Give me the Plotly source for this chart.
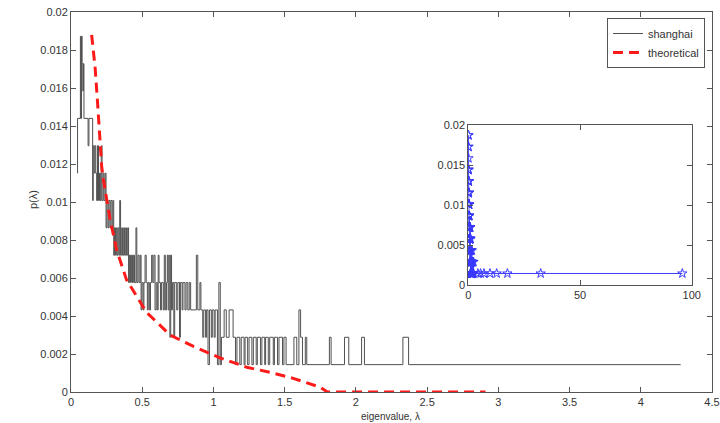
import plotly.graph_objects as go

# ---------------- data ----------------
# empirical eigenvalue density ("shanghai"), staircase: step starts at x, value p
shanghai_x = [0.044, 0.046, 0.066, 0.070, 0.074, 0.078, 0.083, 0.087, 0.091, 0.120,
              0.126, 0.152, 0.156, 0.162, 0.168, 0.174, 0.180, 0.186, 0.193, 0.200,
              0.206, 0.212, 0.218, 0.226, 0.232, 0.240, 0.246, 0.252, 0.260, 0.266,
              0.274, 0.280, 0.288, 0.294, 0.300, 0.306, 0.312, 0.318, 0.324, 0.330,
              0.336, 0.342, 0.348, 0.356, 0.362, 0.370, 0.376, 0.384, 0.390, 0.398,
              0.404, 0.410, 0.418, 0.424, 0.432, 0.438, 0.446, 0.456, 0.462, 0.470,
              0.478, 0.486, 0.492, 0.498, 0.506, 0.512, 0.520, 0.528, 0.536, 0.542,
              0.550, 0.558, 0.566, 0.574, 0.582, 0.590, 0.598, 0.606, 0.612, 0.618,
              0.628, 0.636, 0.648, 0.655, 0.662, 0.670, 0.676, 0.682, 0.688, 0.694,
              0.700, 0.706, 0.712, 0.722, 0.728, 0.742, 0.750, 0.762, 0.768, 0.780,
              0.786, 0.800, 0.808, 0.820, 0.830, 0.840, 0.880, 0.890, 0.905, 0.912,
              0.925, 0.932, 0.945, 0.952, 0.962, 0.972, 0.985, 0.992, 1.005, 1.012,
              1.028, 1.038, 1.048, 1.056, 1.075, 1.090, 1.110, 1.138, 1.155, 1.165,
              1.185, 1.195, 1.215, 1.222, 1.240, 1.250, 1.270, 1.280, 1.300, 1.308,
              1.330, 1.340, 1.360, 1.366, 1.385, 1.395, 1.420, 1.428, 1.450, 1.460,
              1.485, 1.495, 1.510, 1.565, 1.585, 1.600, 1.612, 1.625, 1.645, 1.655,
              1.814, 1.826, 1.920, 1.950, 2.040, 2.060, 2.330, 2.370, 4.280]
shanghai_p = [0.01152, 0.0144, 0.01872, 0.0144, 0.01872, 0.01728, 0.01584, 0.01728, 0.0144, 0.01296,
              0.0144, 0.01008, 0.01296, 0.01152, 0.01296, 0.01152, 0.01008, 0.01296, 0.01008, 0.01152,
              0.01008, 0.01296, 0.01008, 0.01152, 0.01008, 0.01152, 0.00864, 0.01008, 0.00864, 0.01008,
              0.00864, 0.01008, 0.00864, 0.01008, 0.0072, 0.00864, 0.0072, 0.00864, 0.0072, 0.00864,
              0.0072, 0.01008, 0.0072, 0.00864, 0.0072, 0.00864, 0.0072, 0.00864, 0.0072, 0.00864,
              0.00576, 0.0072, 0.00576, 0.0072, 0.00576, 0.0072, 0.00576, 0.00864, 0.00576, 0.0072,
              0.00576, 0.0072, 0.00432, 0.00576, 0.00432, 0.00576, 0.0072, 0.00576, 0.00432, 0.00576,
              0.00432, 0.00576, 0.0072, 0.00576, 0.0072, 0.00432, 0.00576, 0.00432, 0.0072, 0.00576,
              0.00432, 0.00576, 0.00432, 0.0072, 0.00432, 0.00576, 0.0072, 0.00432, 0.0072, 0.00288,
              0.0072, 0.00432, 0.00576, 0.00288, 0.00576, 0.00432, 0.00576, 0.00288, 0.00576, 0.00432,
              0.00576, 0.00432, 0.00576, 0.00432, 0.00576, 0.00432, 0.0072, 0.00432, 0.00576, 0.00432,
              0.00288, 0.00432, 0.00288, 0.00432, 0.00144, 0.00432, 0.00288, 0.00432, 0.00288, 0.00432,
              0.00144, 0.00576, 0.00144, 0.00288, 0.00432, 0.00288, 0.00432, 0.00288, 0.00144, 0.00288,
              0.00144, 0.00288, 0.00144, 0.00288, 0.00144, 0.00288, 0.00144, 0.00288, 0.00144, 0.00288,
              0.00144, 0.00288, 0.00144, 0.00288, 0.00144, 0.00288, 0.00144, 0.00288, 0.00144, 0.00288,
              0.00144, 0.00288, 0.00144, 0.00288, 0.00144, 0.00432, 0.00288, 0.00144, 0.00288, 0.00144,
              0.00288, 0.00144, 0.00288, 0.00144, 0.00288, 0.00144, 0.00288, 0.00144, 0.00144]

# theoretical density curve
theory_x = [0.145, 0.169, 0.185, 0.199, 0.215, 0.227, 0.246, 0.274, 0.320, 0.390,
            0.530, 0.695, 0.860, 1.046, 1.234, 1.400, 1.560, 1.650, 1.750, 1.800, 2.910]
theory_p = [0.0188, 0.0171, 0.0154, 0.0136, 0.0119, 0.0112, 0.0103, 0.0091, 0.0075, 0.0059,
            0.0042, 0.0030, 0.0024, 0.0018, 0.0013, 0.00103, 0.00072, 0.00050, 0.00025, 0.0, 0.0]

# inset: large-eigenvalue outliers
outlier_x = [5.5, 7.0, 9.7, 12.7, 17.5, 32.4, 95.8]
outlier_p = [0.00144, 0.00144, 0.00144, 0.00144, 0.00144, 0.00144, 0.00144]

main_xticks = [0, 0.5, 1, 1.5, 2, 2.5, 3, 3.5, 4, 4.5]
main_xtext = ["0", "0.5", "1", "1.5", "2", "2.5", "3", "3.5", "4", "4.5"]
main_yticks = [0, 0.002, 0.004, 0.006, 0.008, 0.01, 0.012, 0.014, 0.016, 0.018, 0.02]
main_ytext = ["0", "0.002", "0.004", "0.006", "0.008", "0.01", "0.012", "0.014", "0.016", "0.018", "0.02"]
inset_xticks = [0, 50, 100]
inset_yticks = [0, 0.005, 0.01, 0.015, 0.02]
inset_ytext = ["0", "0.005", "0.01", "0.015", "0.02"]

# ---------------- figure ----------------
W, H = 720, 423
FONT = "Liberation Sans, Arial, Helvetica, sans-serif"
AX = "#555555"
TXT = "#333333"

fig = go.Figure()
fig.add_trace(go.Scatter(x=shanghai_x, y=shanghai_p, mode="lines", name="shanghai",
                         line=dict(color="#505050", width=1, shape="hv"),
                         xaxis="x", yaxis="y"))
fig.add_trace(go.Scatter(x=theory_x, y=theory_p, mode="lines", name="theoretical",
                         line=dict(color="#ff1a1a", width=3, dash="10px,6px"),
                         xaxis="x", yaxis="y"))
fig.add_trace(go.Scatter(x=shanghai_x + outlier_x, y=shanghai_p + outlier_p,
                         mode="lines+markers", showlegend=False,
                         line=dict(color="#3b3bff", width=1),
                         marker=dict(symbol="star-open", size=7, color="#3b3bff",
                                     line=dict(width=1, color="#3b3bff")),
                         xaxis="x2", yaxis="y2"))

axis_common = dict(showgrid=False, zeroline=False, showline=True, linecolor=AX, linewidth=1,
                   ticks="inside", ticklen=5, tickcolor=AX, mirror="ticks", automargin=False,
                   tickfont=dict(family=FONT, size=11, color=TXT), tickmode="array")

fig.update_layout(
    template="none",
    width=W, height=H, autosize=False,
    margin=dict(l=0, r=0, t=0, b=0, pad=0),
    paper_bgcolor="white", plot_bgcolor="white",
    font=dict(family=FONT, size=11, color=TXT),
    xaxis=dict(domain=[71 / W, 712 / W], range=[0, 4.5], anchor="y",
               tickvals=main_xticks, ticktext=main_xtext, **axis_common),
    yaxis=dict(domain=[(H - 392) / H, (H - 12) / H], range=[0, 0.02], anchor="x",
               tickvals=main_yticks, ticktext=main_ytext, **axis_common),
    xaxis2=dict(domain=[468.3 / W, 691.7 / W], range=[0, 100], anchor="y2",
                tickvals=inset_xticks, ticktext=[str(v) for v in inset_xticks], **axis_common),
    yaxis2=dict(domain=[(H - 285) / H, (H - 125) / H], range=[0, 0.02], anchor="x2",
                tickvals=inset_yticks, ticktext=inset_ytext, **axis_common),
    legend=dict(x=705 / W, xanchor="right", y=(H - 18) / H, yanchor="top",
                bgcolor="white", bordercolor=AX, borderwidth=1,
                font=dict(family=FONT, size=11, color=TXT),
                tracegroupgap=0, itemwidth=30),
    showlegend=True,
)

fig.add_annotation(text="eigenvalue, λ", xref="paper", yref="paper",
                   x=391 / W, y=0.5 / H, xanchor="center", yanchor="bottom",
                   showarrow=False, borderpad=0,
                   font=dict(family=FONT, size=10, color=TXT))
fig.add_annotation(text="p(λ)", xref="paper", yref="paper",
                   x=33 / W, y=(H - 200) / H, xanchor="center", yanchor="middle",
                   textangle=-90, showarrow=False, font=dict(family=FONT, size=11, color=TXT))

fig.write_html("out.html")
